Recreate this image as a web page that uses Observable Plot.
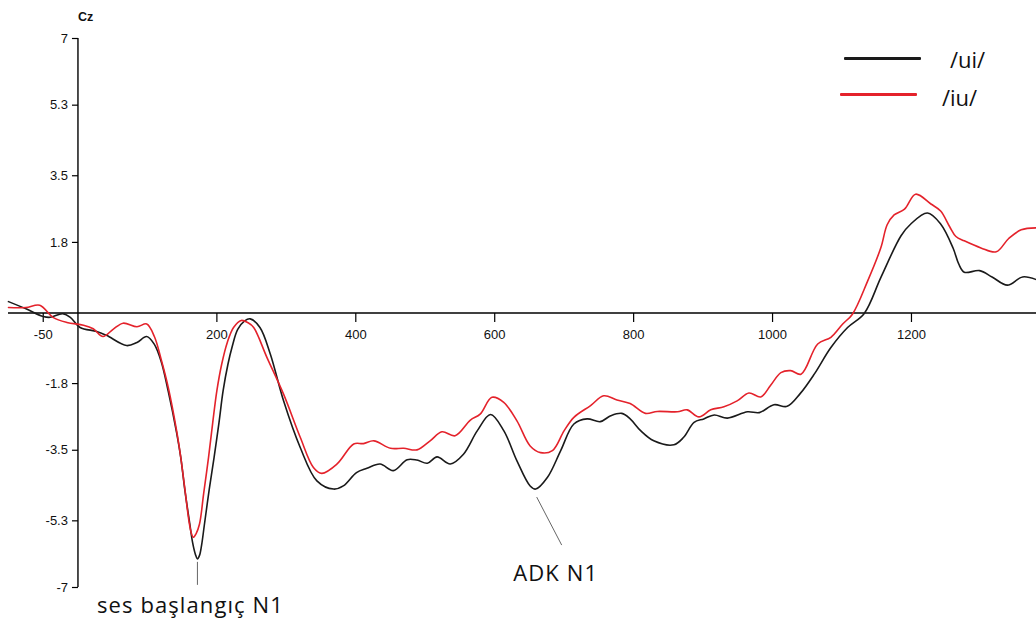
<!DOCTYPE html>
<html>
<head>
<meta charset="utf-8">
<script src="https://cdn.jsdelivr.net/npm/d3@7"></script>
<script src="https://cdn.jsdelivr.net/npm/@observablehq/plot@0.6"></script>
<style>
  body { margin: 0; background: #fff; }
  #chart { position: relative; width: 1036px; height: 623px; }
  #chart svg { position: absolute; left: 0; top: 0; overflow: visible; }
  .legend-swatch { position: absolute; height: 3px; width: 77px; border-radius: 1px; }
  .legend-label { position: absolute; font-family: "Open Sans", sans-serif; font-size: 22px; color: #111; line-height: 30px; white-space: nowrap; }
</style>
</head>
<body>
<div id="chart"></div>
<script>
// Grand-average ERP at Cz (µV) for the two vowel sequences
const seriesNames = ["/ui/", "/iu/"];
const seriesColors = ["#1a1a1a", "#e4222b"];

const uiTimes = [-100,-74,-50,-40,-22,-11,3,27,41,70,85,99,110,120,130,142,148,154,161,165,169,172,175,178,182,189,196,203,209,216,222,230,240,248,262,277,296,320,344,368,382,401,416,435,454,474,488,503,517,536,555,575,594,613,632,651,659,676,695,714,733,752,767,783,795,810,829,858,872,887,901,916,935,964,981,1002,1021,1040,1060,1084,1108,1132,1156,1185,1199,1223,1242,1260,1268,1276,1298,1316,1338,1360,1380];
const uiValues = [0.29,0.10,-0.09,-0.11,-0.02,-0.11,-0.37,-0.47,-0.57,-0.83,-0.75,-0.60,-0.80,-1.25,-2.00,-3.05,-3.68,-4.53,-5.38,-5.85,-6.15,-6.27,-6.18,-5.92,-5.40,-4.50,-3.68,-2.80,-1.98,-1.30,-0.86,-0.42,-0.20,-0.15,-0.37,-1.05,-2.24,-3.43,-4.28,-4.49,-4.41,-4.07,-3.96,-3.85,-4.02,-3.74,-3.75,-3.83,-3.67,-3.85,-3.60,-3.00,-2.59,-3.00,-3.77,-4.41,-4.49,-4.19,-3.51,-2.83,-2.70,-2.77,-2.62,-2.56,-2.70,-3.00,-3.26,-3.36,-3.17,-2.79,-2.70,-2.60,-2.68,-2.52,-2.54,-2.34,-2.38,-2.05,-1.56,-0.88,-0.37,-0.01,0.91,1.97,2.27,2.55,2.27,1.65,1.25,1.04,1.08,0.92,0.71,0.92,0.85];

const iuTimes = [-100,-75,-55,-36,-16,8,22,36,51,65,85,99,110,120,130,142,148,154,160,163,166,170,175,181,188,194,200,207,215,224,235,245,253,272,296,320,339,351,373,397,411,426,450,469,488,507,524,543,565,579,596,613,632,651,666,683,700,714,738,757,776,795,817,834,863,877,894,911,930,949,966,983,997,1012,1026,1041,1065,1084,1101,1115,1137,1156,1165,1175,1190,1206,1228,1242,1255,1264,1276,1300,1322,1340,1358,1380];
const iuValues = [0.14,0.14,0.20,-0.11,-0.24,-0.31,-0.40,-0.60,-0.41,-0.26,-0.35,-0.28,-0.60,-1.20,-1.90,-3.00,-3.68,-4.50,-5.33,-5.60,-5.72,-5.63,-5.38,-4.60,-3.68,-2.80,-1.98,-1.30,-0.75,-0.37,-0.19,-0.25,-0.37,-1.13,-2.07,-3.17,-3.94,-4.09,-3.85,-3.34,-3.33,-3.26,-3.45,-3.45,-3.49,-3.26,-3.03,-3.13,-2.73,-2.58,-2.15,-2.28,-2.75,-3.39,-3.56,-3.51,-3.00,-2.66,-2.36,-2.11,-2.22,-2.31,-2.56,-2.51,-2.52,-2.47,-2.65,-2.47,-2.39,-2.24,-2.04,-2.14,-1.85,-1.52,-1.47,-1.56,-0.79,-0.62,-0.28,-0.03,0.82,1.67,2.25,2.50,2.65,3.03,2.78,2.60,2.20,1.95,1.84,1.66,1.56,1.90,2.12,2.17];

const yTicks = [-7, -5.3, -3.5, -1.8, 1.8, 3.5, 5.3, 7];
const xTicks = [-50, 200, 400, 600, 800, 1000, 1200];
const channelName = "Cz";

// Labelled components: peak name and latency on the /ui/ trace
const annotationLabels = ["ses başlangıç N1", "ADK N1"];
const annotationTimes = [172, 659];

// Long-format rows for the line mark
const rows = [
  ...uiTimes.map((t, i) => ({series: seriesNames[0], t, v: uiValues[i]})),
  ...iuTimes.map((t, i) => ({series: seriesNames[1], t, v: iuValues[i]}))
];
const annotations = annotationLabels.map((label, i) => {
  const t = annotationTimes[i];
  return {label, t, v: uiValues[uiTimes.indexOf(t)]};
});

// Small path shapes used as dot symbols (ticks and leader lines)
const shape = (x1, y1, x2, y2) => ({draw(ctx) { ctx.moveTo(x1, y1); ctx.lineTo(x2, y2); }});
const tickLeft = shape(-6, 0, 0, 0);
const tickDown = shape(0, 0, 0, 9);
const leaders = [shape(0, 3, 0, 26), shape(1, 8, 26, 56)];
const labelOffsets = [[-7, 47], [20, 85]];

const axisFont = "'Liberation Sans', Arial, sans-serif";
const noteFont = "'Open Sans', sans-serif";

const plot = Plot.plot({
  width: 1036,
  height: 623,
  marginLeft: 8,
  marginRight: 0,
  marginTop: 38,
  marginBottom: 36,
  style: {background: "transparent", overflow: "visible"},
  x: {domain: [-100, 1380], axis: null},
  y: {domain: [-7, 7], axis: null},
  color: {domain: seriesNames, range: seriesColors},
  marks: [
    // axes drawn through the origin
    Plot.ruleY([0], {stroke: "#000", strokeWidth: 1.4}),
    Plot.ruleX([0], {y1: -7, y2: 7, stroke: "#000", strokeWidth: 1.4}),
    Plot.dot(yTicks, {x: 0, y: d => d, symbol: tickLeft, r: 3, fill: "none", stroke: "#000", strokeWidth: 1.2}),
    Plot.text(yTicks, {x: 0, y: d => d, text: d => String(d), dx: -10, textAnchor: "end",
      fontFamily: axisFont, fontSize: 13, fill: "#111"}),
    Plot.dot(xTicks, {x: d => d, y: 0, symbol: tickDown, r: 3, fill: "none", stroke: "#000", strokeWidth: 1.2}),
    Plot.text(xTicks, {x: d => d, y: 0, text: d => String(d), dy: 22,
      fontFamily: axisFont, fontSize: 13, fill: "#111"}),
    Plot.text([channelName], {x: 0, y: 7, text: d => d, dy: -22, textAnchor: "start",
      fontFamily: axisFont, fontSize: 12.5, fontWeight: "bold", fill: "#111"}),
    // the two waveforms
    Plot.line(rows, {x: "t", y: "v", z: "series", stroke: "series", strokeWidth: 1.6, curve: "catmull-rom"}),
    // component annotations
    ...annotations.flatMap((a, i) => [
      Plot.dot([a], {x: "t", y: "v", symbol: leaders[i], r: 3, fill: "none", stroke: "#666", strokeWidth: 1}),
      Plot.text([a], {x: "t", y: "v", text: "label", dx: labelOffsets[i][0], dy: labelOffsets[i][1],
        fontFamily: noteFont, fontSize: 22, fill: "#111"})
    ])
  ]
});

// Slightly open tracking on the annotation labels
plot.querySelectorAll("text").forEach(el => {
  if (annotationLabels.includes(el.textContent)) el.style.letterSpacing = "1.1px";
});

const chart = document.getElementById("chart");
chart.appendChild(plot);

// Legend placed in the upper right of the plotting area
const legendPlacement = [
  {swatchLeft: 844, swatchTop: 57, labelLeft: 950, labelTop: 44},
  {swatchLeft: 840, swatchTop: 93, labelLeft: 942, labelTop: 82}
];
seriesNames.forEach((name, i) => {
  const p = legendPlacement[i];
  const sw = document.createElement("div");
  sw.className = "legend-swatch";
  sw.style.left = p.swatchLeft + "px";
  sw.style.top = p.swatchTop + "px";
  sw.style.background = seriesColors[i];
  chart.appendChild(sw);
  const lb = document.createElement("div");
  lb.className = "legend-label";
  lb.style.left = p.labelLeft + "px";
  lb.style.top = p.labelTop + "px";
  lb.textContent = name;
  chart.appendChild(lb);
});
</script>
</body>
</html>
